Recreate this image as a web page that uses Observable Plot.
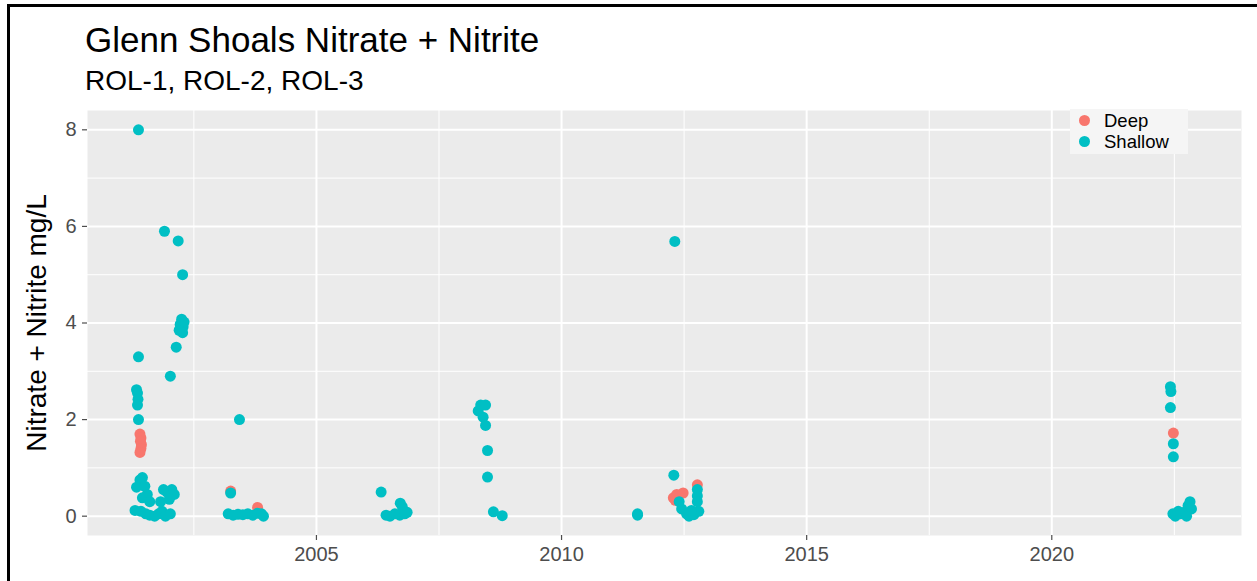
<!DOCTYPE html>
<html>
<head>
<meta charset="utf-8">
<script src="https://cdn.jsdelivr.net/npm/d3@7"></script>
<script src="https://cdn.jsdelivr.net/npm/@observablehq/plot@0.6"></script>
<style>
  body { margin: 0; background: #fff; font-family: "Liberation Sans", Arial, sans-serif; }
  #page { position: relative; width: 1257px; height: 581px; overflow: hidden; background: #fff; }
  #frame { position: absolute; left: 7px; top: 4px; width: 1300px; height: 700px; border-left: 3px solid #000; border-top: 3px solid #000; pointer-events: none; z-index: 5; }
  #header { position: absolute; left: 0; top: 0; width: 1257px; height: 100px; }
  #title { position: absolute; left: 85px; top: 22px; font-size: 35px; line-height: 1; color: #000; white-space: nowrap; }
  #subtitle { position: absolute; left: 85px; top: 67px; font-size: 28px; line-height: 1; color: #000; white-space: nowrap; }
  #chart { position: absolute; left: 0; top: 100px; }
  #legend { position: absolute; left: 1070px; top: 109px; width: 118px; height: 45px; background: #F5F5F5; z-index: 3; }
  .row { position: absolute; left: 0; height: 21px; width: 118px; }
  .dot { position: absolute; left: 9px; top: 5px; width: 11px; height: 11px; border-radius: 50%; }
  .lab { position: absolute; left: 34px; top: 0px; font-size: 18.5px; line-height: 21px; color: #000; white-space: nowrap; }
</style>
</head>
<body>
<div id="page">
  <div id="frame"></div>
  <div id="header">
    <div id="title"></div>
    <div id="subtitle"></div>
  </div>
  <div id="chart"></div>
  <div id="legend"></div>
</div>
<script>
const titleText = "Glenn Shoals Nitrate + Nitrite";
const subtitleText = "ROL-1, ROL-2, ROL-3";
const yLabel = "Nitrate + Nitrite mg/L";

const categories = ["Deep", "Shallow"];
const colors = ["#F8766D", "#00BFC4"];

const xTicks = [2005, 2010, 2015, 2020];
const xMinor = [2002.5, 2007.5, 2012.5, 2017.5, 2022.5];
const yTicks = [0, 2, 4, 6, 8];
const yMinor = [1, 3, 5, 7];

// Deep samples (decimal year, mg/L)
const deepYear  = [2001.40, 2001.42, 2001.41, 2001.43, 2001.42, 2001.40,
                   2003.25, 2003.80,
                   2012.28, 2012.35, 2012.48, 2012.32, 2012.77,
                   2022.48];
const deepValue = [1.70, 1.62, 1.55, 1.48, 1.40, 1.32,
                   0.52, 0.18,
                   0.38, 0.45, 0.48, 0.33, 0.65,
                   1.72];

// Shallow samples (decimal year, mg/L)
const shallowYear = [
  2001.37, 2001.90, 2002.18, 2002.27, 2002.25, 2002.30, 2002.22, 2002.28, 2002.20, 2002.27,
  2002.14, 2001.37, 2002.02, 2001.33, 2001.35, 2001.36, 2001.35, 2001.37,
  2001.45, 2001.40, 2001.33, 2001.50, 2001.55, 2001.45, 2001.60, 2001.30, 2001.42, 2001.52,
  2001.60, 2001.70, 2001.78, 2001.85, 2001.82, 2001.95, 2002.05, 2002.10, 2001.88, 2002.00,
  2001.92, 2002.02,
  2003.43, 2003.25, 2003.20, 2003.30, 2003.40, 2003.50, 2003.60, 2003.70, 2003.80, 2003.88, 2003.92,
  2006.32, 2006.71, 2006.75, 2006.42, 2006.50, 2006.60, 2006.70, 2006.80, 2006.85,
  2008.35, 2008.45, 2008.30, 2008.40, 2008.45, 2008.49, 2008.49, 2008.61, 2008.79,
  2011.55, 2011.55,
  2012.31, 2012.29, 2012.45, 2012.55, 2012.60, 2012.70, 2012.77, 2012.77, 2012.77, 2012.80, 2012.40, 2012.65,
  2022.42, 2022.43, 2022.42, 2022.48, 2022.48, 2022.47, 2022.52, 2022.58, 2022.62, 2022.70,
  2022.78, 2022.82, 2022.85, 2022.75
];
const shallowValue = [
  8.00, 5.90, 5.70, 5.00, 4.08, 4.02, 3.97, 3.92, 3.85, 3.80,
  3.50, 3.30, 2.90, 2.62, 2.55, 2.42, 2.30, 2.00,
  0.80, 0.75, 0.60, 0.62, 0.45, 0.38, 0.30, 0.12, 0.10, 0.05,
  0.02, 0.00, 0.05, 0.10, 0.30, 0.50, 0.55, 0.45, 0.55, 0.35,
  0.00, 0.05,
  2.00, 0.48, 0.05, 0.02, 0.04, 0.03, 0.05, 0.02, 0.06, 0.05, 0.00,
  0.50, 0.27, 0.20, 0.02, 0.00, 0.05, 0.02, 0.05, 0.08,
  2.30, 2.30, 2.18, 2.05, 1.88, 1.36, 0.81, 0.09, 0.01,
  0.02, 0.05,
  5.69, 0.85, 0.15, 0.05, 0.00, 0.03, 0.55, 0.42, 0.30, 0.10, 0.30, 0.12,
  2.68, 2.58, 2.25, 1.50, 1.23, 0.05, 0.00, 0.10, 0.05, 0.08,
  0.22, 0.30, 0.15, 0.00
];

document.getElementById("title").textContent = titleText;
document.getElementById("subtitle").textContent = subtitleText;

const data = [
  ...deepYear.map((x, i) => ({year: x, value: deepValue[i], depth: categories[0]})),
  ...shallowYear.map((x, i) => ({year: x, value: shallowValue[i], depth: categories[1]}))
];

const chart = Plot.plot({
  width: 1257,
  height: 481,
  marginTop: 10,
  marginBottom: 46,
  marginLeft: 87,
  marginRight: 16,
  style: { fontFamily: "Liberation Sans, Arial, sans-serif", fontSize: "20px", background: "transparent", color: "#4D4D4D" },
  x: { domain: [2000.33, 2023.87] },
  y: { domain: [-0.4, 8.4] },
  color: { domain: categories, range: colors },
  marks: [
    Plot.frame({ fill: "#EBEBEB", stroke: "none" }),
    Plot.gridY({ ticks: yMinor, stroke: "#fff", strokeOpacity: 1, strokeWidth: 1 }),
    Plot.gridX({ ticks: xMinor, stroke: "#fff", strokeOpacity: 1, strokeWidth: 1 }),
    Plot.gridY({ ticks: yTicks, stroke: "#fff", strokeOpacity: 1, strokeWidth: 2 }),
    Plot.gridX({ ticks: xTicks, stroke: "#fff", strokeOpacity: 1, strokeWidth: 2 }),
    Plot.axisY({ ticks: yTicks, tickSize: 5, tickPadding: 6, tickFormat: d3.format("d"), label: null, color: "#4D4D4D", strokeWidth: 1.2 }),
    Plot.axisY({ ticks: [], tickSize: 0, label: yLabel, labelAnchor: "center", labelArrow: "none", labelOffset: 61, fontSize: 28, color: "#000" }),
    Plot.axisX({ ticks: xTicks, tickSize: 5, tickPadding: 6, tickFormat: d3.format("d"), label: null, color: "#4D4D4D", strokeWidth: 1.2 }),
    Plot.dot(data, { x: "year", y: "value", fill: "depth", r: 5.5, stroke: "none" })
  ]
});
document.getElementById("chart").appendChild(chart);

const legend = document.getElementById("legend");
categories.forEach((c, i) => {
  const row = document.createElement("div");
  row.className = "row";
  row.style.top = (1 + i * 21) + "px";
  const dot = document.createElement("div");
  dot.className = "dot";
  dot.style.background = colors[i];
  const lab = document.createElement("div");
  lab.className = "lab";
  lab.textContent = c;
  row.appendChild(dot);
  row.appendChild(lab);
  legend.appendChild(row);
});
</script>
</body>
</html>
